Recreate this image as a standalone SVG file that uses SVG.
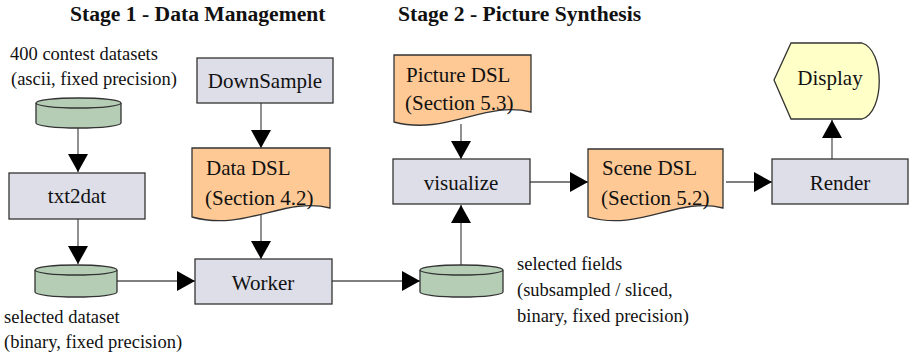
<svg xmlns="http://www.w3.org/2000/svg" width="910" height="356" viewBox="0 0 910 356">
<style>
text{font-family:"Liberation Serif","Times New Roman",serif;fill:#111}
.t{font-size:21.6px;font-weight:bold}
.n{font-size:21px}
.l{font-size:18.5px}
.box{fill:#dedee8;stroke:#333;stroke-width:1.3}
.doc{fill:#fec995;stroke:#333;stroke-width:1.3}
.cyl{fill:#b5cdb5;stroke:#333;stroke-width:1.3}
.disp{fill:#ffffc8;stroke:#333;stroke-width:1.3}
.c{fill:none;stroke:#555;stroke-width:1.3;marker-end:url(#ah)}
</style>
<defs>
<marker id="ah" markerUnits="userSpaceOnUse" markerWidth="20" markerHeight="22" refX="18" refY="10" orient="auto" viewBox="0 0 20 22">
<path d="M0,0 L18,10 L0,20 Z" fill="#000"/>
</marker>
</defs>
<text class="t" x="70" y="21">Stage 1 - Data Management</text>
<text class="t" x="398" y="21">Stage 2 - Picture Synthesis</text>

<g id="connectors">
<path class="c" d="M78,128 V172"/>
<path class="c" d="M78,219 V264"/>
<path class="c" d="M117,281 H195"/>
<path class="c" d="M261,103 V148"/>
<path class="c" d="M261,215 V259"/>
<path class="c" d="M332,281 H420"/>
<path class="c" d="M461,265 V205"/>
<path class="c" d="M461,124 V159"/>
<path class="c" d="M530,182 H588"/>
<path class="c" d="M726,182 H772"/>
<path class="c" d="M832,159 V120"/>
</g>

<g id="contest-datasets">
<path class="cyl" d="M36,103 V123 A42.5,5 0 0 0 121,123 V103"/>
<ellipse class="cyl" cx="78.5" cy="103" rx="42.5" ry="5"/>
<text class="l" x="10" y="60">400 contest datasets</text>
<text class="l" x="11" y="85">(ascii, fixed precision)</text>
</g>

<g id="txt2dat">
<rect class="box" x="9" y="173" width="136" height="46"/>
<text class="n" x="77" y="203" text-anchor="middle">txt2dat</text>
</g>

<g id="selected-dataset">
<path class="cyl" d="M35,270 V292 A41,5 0 0 0 117,292 V270"/>
<ellipse class="cyl" cx="76" cy="270" rx="41" ry="5"/>
<text class="l" x="4" y="323">selected dataset</text>
<text class="l" x="4" y="348">(binary, fixed precision)</text>
</g>

<g id="downsample">
<rect class="box" x="197" y="58" width="136" height="45"/>
<text class="n" x="265" y="88" text-anchor="middle">DownSample</text>
</g>

<g id="data-dsl">
<path class="doc" d="M192,148 H330 V208 C285,196 245,232 192,217 Z"/>
<text class="n" x="206" y="175">Data DSL</text>
<text class="n" x="205" y="205">(Section 4.2)</text>
</g>

<g id="worker">
<rect class="box" x="195" y="259" width="137" height="45"/>
<text class="n" x="263" y="290" text-anchor="middle">Worker</text>
</g>

<g id="selected-fields">
<path class="cyl" d="M420,270 V292 A41.5,5 0 0 0 503,292 V270"/>
<ellipse class="cyl" cx="461.5" cy="270" rx="41.5" ry="5"/>
<text class="l" x="517" y="270">selected fields</text>
<text class="l" x="517" y="296">(subsampled / sliced,</text>
<text class="l" x="517" y="322">binary, fixed precision)</text>
</g>

<g id="picture-dsl">
<path class="doc" d="M394,55 H531 V112 C486,100 446,136 394,122 Z"/>
<text class="n" x="406" y="82">Picture DSL</text>
<text class="n" x="405" y="110">(Section 5.3)</text>
</g>

<g id="visualize">
<rect class="box" x="393" y="159" width="137" height="45"/>
<text class="n" x="461" y="190" text-anchor="middle">visualize</text>
</g>

<g id="scene-dsl">
<path class="doc" d="M588,149 H723 V208 C678,196 640,232 588,217 Z"/>
<text class="n" x="602" y="175">Scene DSL</text>
<text class="n" x="601" y="205">(Section 5.2)</text>
</g>

<g id="render">
<rect class="box" x="772" y="159" width="136" height="45"/>
<text class="n" x="840" y="190" text-anchor="middle">Render</text>
</g>

<g id="display">
<path class="disp" d="M774,80 L791,43 H862 C885,50 885,112 862,119 H791 Z"/>
<text class="n" x="830" y="85" text-anchor="middle">Display</text>
</g>
</svg>
